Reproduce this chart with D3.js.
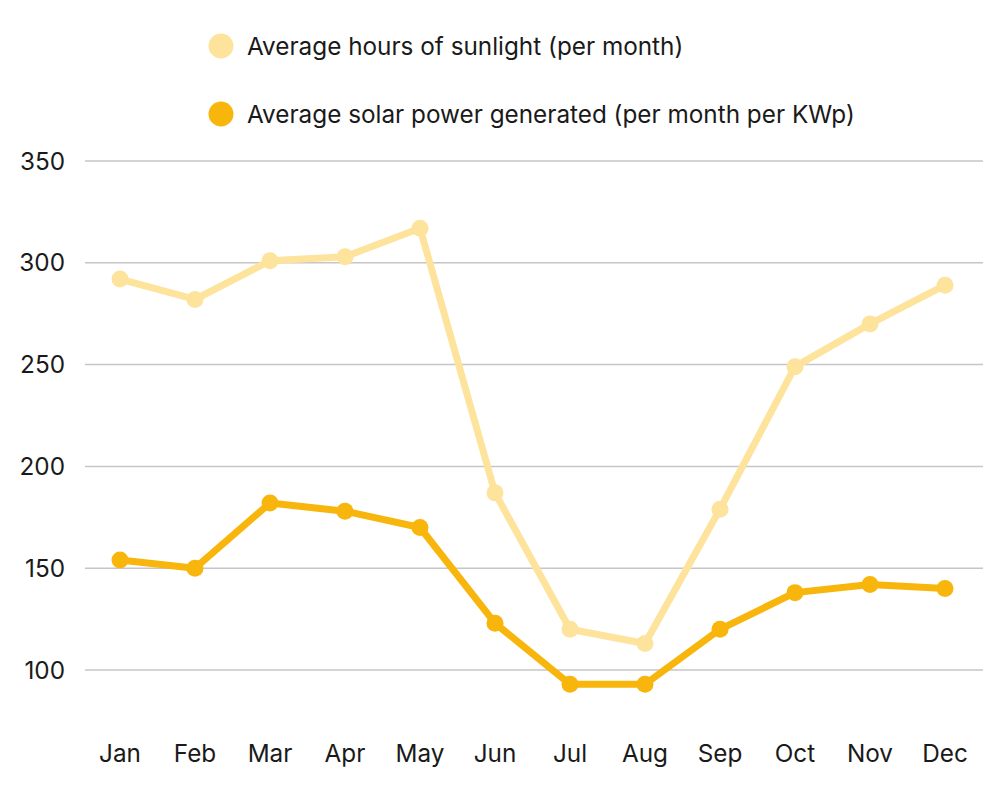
<!DOCTYPE html>
<html>
<head>
<meta charset="utf-8">
<script src="https://cdn.jsdelivr.net/npm/d3@7"></script>
<style>
  body { margin: 0; background: #fff; }
  text { font-family: Inter, "Noto Sans", sans-serif; fill: #1a1a1a; }
</style>
</head>
<body>
<div id="chart"></div>
<script>
var months = ["Jan", "Feb", "Mar", "Apr", "May", "Jun", "Jul", "Aug", "Sep", "Oct", "Nov", "Dec"];
var sunlightHours = [292, 282, 301, 303, 317, 187, 120, 113, 179, 249, 270, 289];
var solarPower = [154, 150, 182, 178, 170, 123, 93, 93, 120, 138, 142, 140];
var yTicks = [100, 150, 200, 250, 300, 350];
var seriesNames = ["Average hours of sunlight (per month)", "Average solar power generated (per month per KWp)"];
var seriesColors = ["#fde39b", "#f8b60c"];

var width = 1008,
  height = 791,
  margin = { top: 161, right: 25, bottom: 80, left: 85 };

var svg = d3.select("#chart").append("svg")
  .attr("width", width)
  .attr("height", height);

var x = d3.scalePoint()
  .domain(months)
  .range([82.5, 982.5])
  .padding(0.5);

var y = d3.scaleLinear()
  .domain([100, 350])
  .range([670, margin.top]);

// gridlines
svg.append("g")
  .selectAll("line")
  .data(yTicks)
  .enter()
  .append("line")
  .attr("x1", margin.left)
  .attr("x2", width - margin.right)
  .attr("y1", function (d) { return y(d); })
  .attr("y2", function (d) { return y(d); })
  .attr("stroke", "#c6c6c6")
  .attr("stroke-width", 1.5);

// y labels
svg.append("g")
  .selectAll("text")
  .data(yTicks)
  .enter()
  .append("text")
  .attr("x", 65)
  .attr("y", function (d) { return y(d); })
  .attr("dy", "0.35em")
  .attr("text-anchor", "end")
  .attr("font-size", 24.3)
  .text(function (d) { return d; });

// x labels
svg.append("g")
  .selectAll("text")
  .data(months)
  .enter()
  .append("text")
  .attr("x", function (d) { return x(d); })
  .attr("y", 753)
  .attr("dy", "0.35em")
  .attr("text-anchor", "middle")
  .attr("font-size", 24.3)
  .text(function (d) { return d; });

var line = d3.line()
  .x(function (d, i) { return x(months[i]); })
  .y(function (d) { return y(d); });

[sunlightHours, solarPower].forEach(function (vals, k) {
  var g = svg.append("g");
  g.append("path")
    .attr("d", line(vals))
    .attr("fill", "none")
    .attr("stroke", seriesColors[k])
    .attr("stroke-width", 7)
    .attr("stroke-linejoin", "round");
  g.selectAll("circle")
    .data(vals)
    .enter()
    .append("circle")
    .attr("cx", function (d, i) { return x(months[i]); })
    .attr("cy", function (d) { return y(d); })
    .attr("r", 8.5)
    .attr("fill", seriesColors[k]);
});

// legend
var legend = svg.append("g")
  .selectAll("g")
  .data(seriesNames)
  .enter()
  .append("g")
  .attr("transform", function (d, i) { return "translate(221," + (46 + i * 68) + ")"; });

legend.append("circle")
  .attr("r", 12.5)
  .attr("fill", function (d, i) { return seriesColors[i]; });

legend.append("text")
  .attr("x", 26)
  .attr("dy", "0.35em")
  .attr("font-size", 24.3)
  .text(function (d) { return d; });
</script>
</body>
</html>
